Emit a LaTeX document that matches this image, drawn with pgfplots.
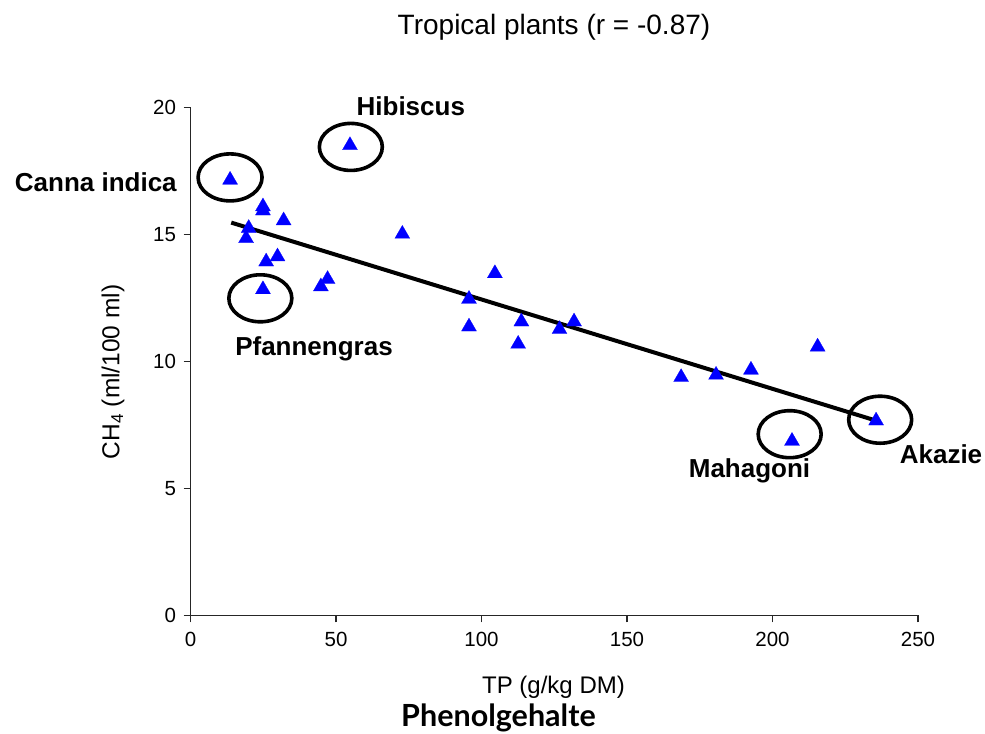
\documentclass[border=0pt]{standalone}
\usepackage{fontspec}
\setmainfont{Liberation Sans}
\newfontfamily\gill{Lato}
\usepackage{pgfplots}
\pgfplotsset{compat=1.18}
\begin{document}
\begin{tikzpicture}
\useasboundingbox (0,0) rectangle (985bp,734bp);
\begin{axis}[
  at={(190.5bp,118.7bp)}, anchor=south west,
  x=2.91bp, y=25.4bp,
  xmin=0, xmax=250, ymin=0, ymax=20,
  axis lines=left,
  axis line style={-, line width=1.3bp, black!85},
  tick style={line width=1.3bp, black!85},
  tick align=outside,
  major tick length=7bp,
  xtick={0,50,100,150,200,250},
  ytick={0,5,10,15,20},
  /pgf/number format/assume math mode=true,
  ticklabel style={font=\fontsize{20.5bp}{24bp}\selectfont},
  xticklabel style={yshift=-6bp},
  yticklabel style={xshift=-4bp},
  clip=false,
]
\addplot[only marks, mark=triangle*, mark size=8.7bp, color=blue, mark options={fill=blue, draw=blue, line width=0.2bp}] coordinates {
(13.6,17.14) (54.8,18.5) (24.9,16.09) (24.9,15.93) (32.0,15.54) (20.0,15.24)
(19.1,14.84) (72.8,15.01) (26.0,13.92) (29.9,14.12) (24.9,12.83) (47.1,13.23)
(44.8,12.94) (104.6,13.46) (95.7,12.45) (95.7,11.36) (113.7,11.56) (112.6,10.68)
(126.8,11.26) (131.8,11.56) (168.6,9.37) (180.6,9.46) (192.6,9.66) (215.5,10.57)
(206.7,6.86) (235.6,7.66)
};
\addplot[black, line width=4bp] coordinates {(14,15.46) (236,7.65)};
\draw[line width=3.6bp] (axis cs:13.6,17.24) ellipse [x radius=32bp, y radius=23.5bp];
\draw[line width=3.6bp] (axis cs:55.1,18.44) ellipse [x radius=31.5bp, y radius=23.5bp];
\draw[line width=3.6bp] (axis cs:24.0,12.48) ellipse [x radius=31.5bp, y radius=23.5bp];
\draw[line width=3.6bp] (axis cs:205.9,7.13) ellipse [x radius=31.5bp, y radius=23.5bp];
\draw[line width=3.6bp] (axis cs:237.0,7.70) ellipse [x radius=31.5bp, y radius=23.5bp];
\end{axis}
\node[anchor=base] at (554bp,699bp) {\fontsize{28bp}{32bp}\selectfont Tropical plants (r = -0.87)};
\node[anchor=base] at (95.8bp,542.3bp) {\fontsize{26bp}{30bp}\selectfont\bfseries Canna indica};
\node[anchor=base] at (410.8bp,618bp) {\fontsize{26bp}{30bp}\selectfont\bfseries Hibiscus};
\node[anchor=base] at (314bp,378bp) {\fontsize{26bp}{30bp}\selectfont\bfseries Pfannengras};
\node[anchor=base] at (749.5bp,256bp) {\fontsize{26bp}{30bp}\selectfont\bfseries Mahagoni};
\node[anchor=base] at (941bp,270.4bp) {\fontsize{26bp}{30bp}\selectfont\bfseries Akazie};
\node[rotate=90] at (113bp,362bp) {\fontsize{24.5bp}{28bp}\selectfont CH\textsubscript{4} (ml/100 ml)};
\node[anchor=base] at (553.5bp,40bp) {\fontsize{24bp}{28bp}\selectfont TP (g/kg DM)};
\node[anchor=base] at (498.5bp,7.5bp) {\fontsize{30.5bp}{34bp}\selectfont\gill\bfseries Phenolgehalte};
\end{tikzpicture}
\end{document}
